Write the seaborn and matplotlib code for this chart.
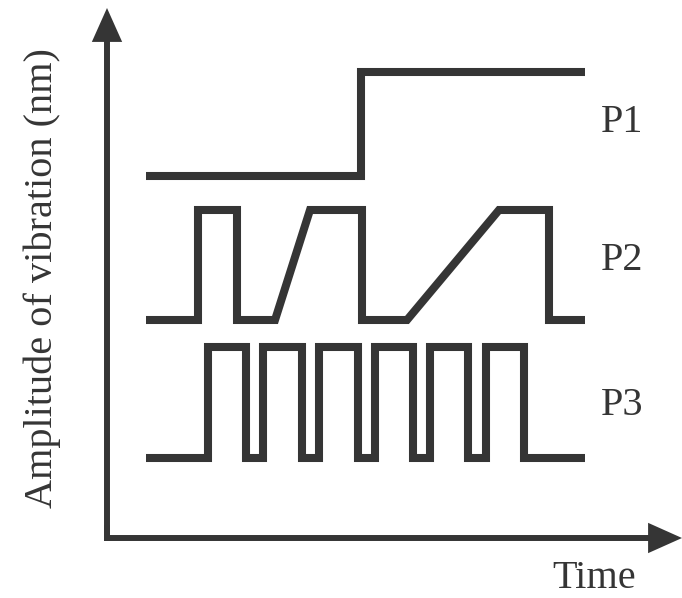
import numpy as np
import pandas as pd
import matplotlib
matplotlib.use("Agg")
import matplotlib.pyplot as plt
from matplotlib.patches import FancyArrowPatch
import seaborn as sns

# ---- data (time units, amplitude units) ----
p1_time = [3.9, 25.4, 25.4, 47.8]
p1_amp = [36.25, 36.25, 46.6, 46.6]

p2_time = [3.9, 9.1, 9.1, 13.0, 13.0, 16.8, 20.3, 25.5, 25.5, 30.0, 39.2, 44.2, 44.2, 47.8]
p2_amp = [21.8, 21.8, 32.8, 32.8, 21.8, 21.8, 32.8, 32.8, 21.8, 21.8, 32.8, 32.8, 21.8, 21.8]

p3_time = [3.9, 10.1, 10.1, 13.9, 13.9, 15.6, 15.6, 19.5, 19.5, 21.2, 21.2, 25.1, 25.1,
           26.8, 26.8, 30.6, 30.6, 32.3, 32.3, 36.1, 36.1, 37.9, 37.9, 41.7, 41.7, 47.8]
p3_amp = [8.0, 8.0, 19.1, 19.1, 8.0, 8.0, 19.1, 19.1, 8.0, 8.0, 19.1, 19.1, 8.0,
          8.0, 19.1, 19.1, 8.0, 8.0, 19.1, 19.1, 8.0, 8.0, 19.1, 19.1, 8.0, 8.0]

series_names = ["P1", "P2", "P3"]
label_pos = {"P1": (49.4, 40.6), "P2": (49.4, 26.8), "P3": (49.4, 12.3)}
x_label = "Time"
y_label = "Amplitude of vibration (nm)"

COLOR = "#353535"

sns.set_theme(style="white")
plt.rcParams["font.family"] = ["Liberation Serif", "DejaVu Serif"]

df = pd.concat([
    pd.DataFrame({"time": p1_time, "amp": p1_amp, "series": "P1", "order": range(len(p1_time))}),
    pd.DataFrame({"time": p2_time, "amp": p2_amp, "series": "P2", "order": range(len(p2_time))}),
    pd.DataFrame({"time": p3_time, "amp": p3_amp, "series": "P3", "order": range(len(p3_time))}),
], ignore_index=True)

fig = plt.figure(figsize=(6.82, 5.98), dpi=100)
ax = fig.add_axes([0, 0, 1, 1])

for name in series_names:
    sub = df[df["series"] == name]
    sns.lineplot(data=sub, x="time", y="amp", sort=False, estimator=None,
                 color=COLOR, linewidth=5.8, ax=ax, legend=False)
for ln in ax.get_lines():
    ln.set_solid_joinstyle("miter")
    ln.set_solid_capstyle("butt")

ax.set_xlim(-10.7, 57.5)
ax.set_ylim(-6.0, 53.8)
for s in ax.spines.values():
    s.set_visible(False)
ax.set_xticks([])
ax.set_yticks([])
ax.set_xlabel("")
ax.set_ylabel("")
ax.patch.set_alpha(0)

# axis arrows
for start, end in [((0, 0.3), (0, 53.0)), ((-0.3, 0), (57.5, 0))]:
    arr = FancyArrowPatch(start, end, arrowstyle="-|>,head_length=17,head_width=7.6",
                          mutation_scale=1, color=COLOR, linewidth=4.3,
                          shrinkA=0, shrinkB=0, joinstyle="miter", capstyle="butt")
    ax.add_patch(arr)
ax.plot([0, 0], [0, 1], color=COLOR, lw=4.3, solid_capstyle="projecting")

for name in series_names:
    x, y = label_pos[name]
    ax.text(x, y, name, fontsize=29, color=COLOR, ha="left", va="baseline")

ax.text(44.5, -5.92, x_label, fontsize=29, color=COLOR, ha="left", va="bottom")
ax.text(-6.5, 25.95, y_label, fontsize=29, color=COLOR, ha="center", va="center", rotation=90)

fig.savefig("out.png", dpi=100, facecolor="white")
